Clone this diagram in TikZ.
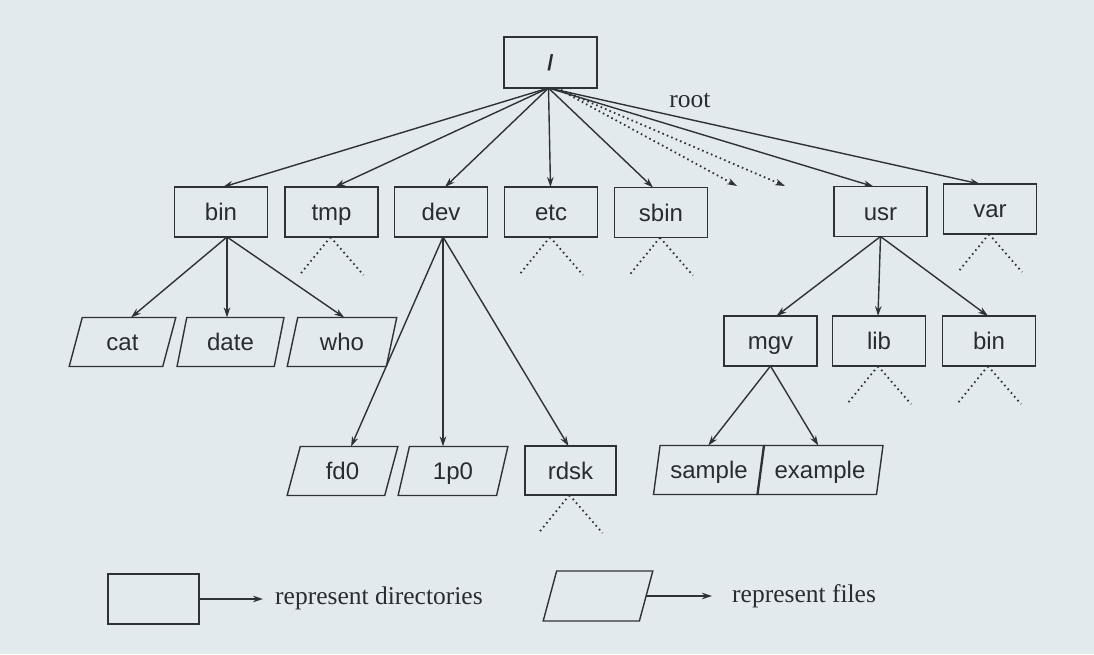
\documentclass[tikz,border=0pt]{standalone}
\usepackage{fontspec}
\setmainfont{Liberation Serif}
\setsansfont{Liberation Sans}
\usetikzlibrary{shapes.geometric,arrows.meta,calc}
\definecolor{bgc}{RGB}{227,234,237}
\definecolor{linec}{RGB}{45,50,54}
\definecolor{txtc}{RGB}{40,44,48}
\tikzset{
  lbl/.style={font=\sffamily\fontsize{24}{24}\selectfont, text=txtc, text height=17pt, text depth=0pt},
  dirbox/.style={lbl, draw=linec, line width=1.4pt, rectangle, minimum width=93pt, minimum height=50pt, inner sep=0pt, outer sep=0pt},
  filebox/.style={lbl, draw=linec, line width=1.4pt, trapezium, trapezium left angle=73, trapezium right angle=107, trapezium stretches=true, minimum width=#1, minimum height=49pt, inner sep=0pt, outer sep=0pt},
  arr/.style={draw=linec, line width=1.4pt, -{Stealth[length=10pt,width=6.5pt]}},
  dotarr/.style={draw=linec, line width=1.8pt, dash pattern=on 1.6pt off 3.2pt, -{Stealth[length=10pt,width=6.5pt]}},
  dots/.style={draw=linec, line width=1.8pt, dash pattern=on 1.6pt off 3.4pt},
  serif/.style={font=\rmfamily\fontsize{25.5}{25.5}\selectfont, text=txtc, inner sep=0pt},
}
\begin{document}
\begin{tikzpicture}[x=1pt,y=-1pt]
\fill[bgc] (0,0) rectangle (1094,654);
\useasboundingbox (0,0) rectangle (1094,654);

% root
\node[dirbox, minimum height=51pt, text height=15pt] (root) at (550.5,62.5) {\bfseries\fontsize{22}{22}\selectfont /};
\node[serif] (rootlbl) at (690,100) {root};

% level 1
\node[dirbox] (bin)  at (221,212) {bin};
\node[dirbox] (tmp)  at (331.5,212) {tmp};
\node[dirbox] (dev)  at (441,212) {dev};
\node[dirbox] (etc)  at (551,212) {etc};
\node[dirbox] (sbin) at (661,212.5) {sbin};
\node[dirbox] (usr)  at (880.5,211.5) {usr};
\node[dirbox] (var)  at (990,209) {var};
\coordinate (d1) at (737,186);
\coordinate (d2) at (785,186);

% level 2
\node[filebox=107pt] (cat)  at (122.5,342) {cat};
\node[filebox=107pt] (date) at (230.5,342) {date};
\node[filebox=110pt] (who)  at (342,342) {who};
\node[dirbox] (mgv)  at (770.5,341) {mgv};
\node[dirbox] (lib)  at (879,341) {lib};
\node[dirbox] (ubin) at (989,341) {bin};

% level 3
\node[filebox=111pt] (fd0)  at (342.5,471) {fd0};
\node[filebox=110pt] (lp0)  at (453,471) {1p0};
\node[dirbox, minimum width=91pt, minimum height=49pt] (rdsk) at (570.5,470.5) {rdsk};
\node[filebox=112pt] (sample)  at (709,470) {sample};
\node[filebox=126pt] (example) at (820,470) {example};

% legend
\node[dirbox, minimum width=91pt] (legdir) at (153.5,599) {};
\coordinate (legdirend) at (263,599);
\node[serif, anchor=west] (legdirtxt) at (275,598) {represent directories};
\node[filebox=110pt, minimum height=50pt] (legfile) at (598,596) {\phantom{cat}};
\coordinate (legfileend) at (712,596);
\node[serif, anchor=west] (legfiletxt) at (732,596) {represent files};

% root edges
\coordinate (rs) at ([xshift=-2pt]root.south);
\coordinate (rsd) at ([xshift=6pt]root.south);
\draw[arr] (rs) -- ([xshift=2pt]bin.north);
\draw[arr] (rs) -- ([xshift=3.5pt]tmp.north);
\draw[arr] (rs) -- ([xshift=4pt]dev.north);
\draw[arr] (rs) -- ([xshift=-0.5pt]etc.north);
\draw[arr] (rs) -- ([xshift=-8pt]sbin.north);
\draw[dotarr] (rsd) -- (d1);
\draw[dotarr] (rsd) -- (d2);
\draw[arr] (rs) -- ([xshift=-7pt]usr.north);
\draw[arr] (rs) -- ([xshift=-10pt]var.north);

% bin children
\coordinate (bs) at ([xshift=6pt]bin.south);
\draw[arr] (bs) -- ([xshift=2pt]cat.top side);
\draw[arr] (bs) -- (bs |- date.top side);
\draw[arr] (bs) -- ([xshift=-3pt]who.top side);

% dev children
\coordinate (ds) at ([xshift=2pt]dev.south);
\draw[arr] (ds) -- ([xshift=2pt]fd0.top side);
\draw[arr] (ds) -- (ds |- lp0.top side);
\draw[arr] (ds) -- ([xshift=-2pt]rdsk.north);

% usr children
\draw[arr] (usr.south) -- ([xshift=6pt]mgv.north);
\draw[arr] (usr.south) -- ([xshift=-1pt]lib.north);
\draw[arr] (usr.south) -- ([xshift=-1pt]ubin.north);

% mgv children
\draw[arr] (mgv.south) -- ([xshift=-4pt]sample.top side);
\draw[arr] (mgv.south) -- ([xshift=-5pt]example.top side);

% dotted stubs
\foreach \n in {tmp,etc,sbin,var,lib,ubin,rdsk}{
  \draw[dots] ([xshift=-1pt]\n.south) -- ++(-31,38);
  \draw[dots] ([xshift=-1pt]\n.south) -- ++(33,38);
}

% legend arrows
\draw[arr] (legdir.east) -- (legdirend);
\draw[arr] (legfile.right side) -- (legfile.right side -| legfileend);
\end{tikzpicture}
\end{document}
